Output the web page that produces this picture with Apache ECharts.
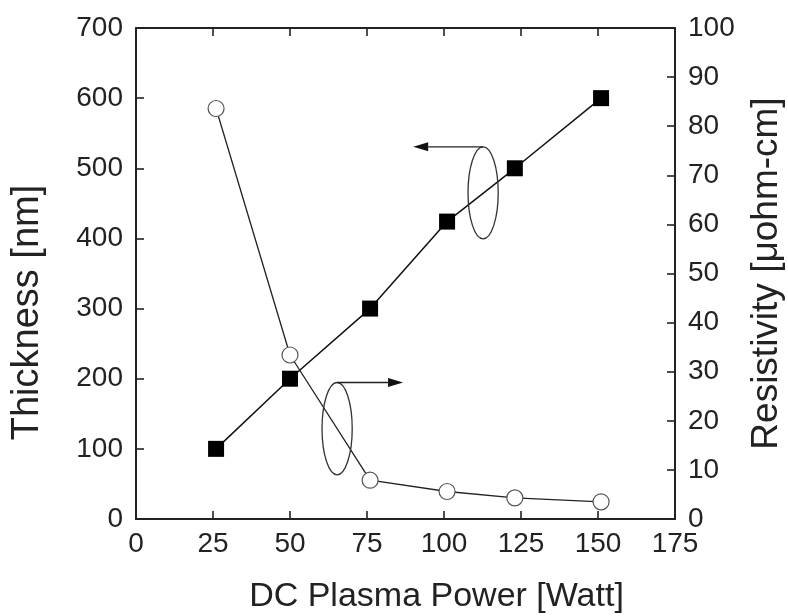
<!DOCTYPE html>
<html>
<head>
<meta charset="utf-8">
<script src="https://cdn.jsdelivr.net/npm/echarts@6/dist/echarts.min.js"></script>
<style>
html,body{margin:0;padding:0;background:#fff;}
#chart{width:788px;height:616px;}
</style>
</head>
<body>
<div id="chart"></div>
<script>
// ---- data ----
var powerW = [26, 50, 76, 101, 123, 151];
var thicknessNm = [100, 200, 300, 424, 500, 600];
var resistivity = [83.6, 33.4, 7.9, 5.6, 4.3, 3.5];
var xTicks = [0, 175, 25];      // min, max, interval
var yLeftTicks = [0, 700, 100];
var yRightTicks = [0, 100, 10];
// annotation anchors in data coordinates
var ellipseThick = {x: 112.7, y: 465, rx: 4.9, ry: 65.6, arrowTo: 90};
var ellipseRes = {x: 65.3, y: 18.4, rx: 4.9, ry: 9.4, arrowTo: 86.7};

var FONT = 'Liberation Sans, Arial, sans-serif';
var C = '#222';

var chart = echarts.init(document.getElementById('chart'));

function zip(a, b) { return a.map(function (v, i) { return [v, b[i]]; }); }

function axLine() { return {show: true, onZero: false, lineStyle: {color: C, width: 2}}; }
function tick() { return {show: true, inside: true, length: 8, lineStyle: {color: C, width: 1.6}}; }
function lbl(m) { return {color: C, fontSize: 28, fontFamily: FONT, margin: m}; }

chart.setOption({
  animation: false,
  backgroundColor: '#fff',
  grid: {left: 136, right: 113, top: 28, bottom: 97, containLabel: false, outerBoundsMode: 'none'},
  xAxis: [{
    type: 'value', position: 'bottom', min: xTicks[0], max: xTicks[1], interval: xTicks[2],
    axisLine: axLine(), axisTick: tick(), minorTick: {show: false}, splitLine: {show: false},
    axisLabel: lbl(11),
    name: 'DC Plasma Power [Watt]', nameLocation: 'middle', nameGap: 61,
    nameTextStyle: {color: C, fontSize: 34, fontFamily: FONT, padding: [0, 0, 0, 62]}
  }, {
    type: 'value', position: 'top', min: xTicks[0], max: xTicks[1], interval: xTicks[2],
    axisLine: axLine(), axisTick: tick(), minorTick: {show: false}, splitLine: {show: false},
    axisLabel: {show: false}
  }],
  yAxis: [{
    type: 'value', position: 'left', min: yLeftTicks[0], max: yLeftTicks[1], interval: yLeftTicks[2],
    axisLine: axLine(), axisTick: tick(), minorTick: {show: false}, splitLine: {show: false},
    axisLabel: lbl(13),
    name: 'Thickness [nm]', nameLocation: 'middle', nameGap: 89,
    nameTextStyle: {color: C, fontSize: 38, fontFamily: FONT, padding: [0, 78, 0, 0]}
  }, {
    type: 'value', position: 'right', min: yRightTicks[0], max: yRightTicks[1], interval: yRightTicks[2],
    axisLine: axLine(), axisTick: tick(), minorTick: {show: false}, splitLine: {show: false},
    axisLabel: lbl(13),
    name: 'Resistivity [\u03bcohm-cm]', nameLocation: 'middle', nameGap: 73,
    nameTextStyle: {color: C, fontSize: 37, fontFamily: FONT}
  }],
  series: [{
    type: 'line', xAxisIndex: 0, yAxisIndex: 0, data: zip(powerW, thicknessNm),
    symbol: 'rect', symbolSize: 16,
    lineStyle: {color: '#111', width: 1.5},
    itemStyle: {color: '#000', borderWidth: 0}
  }, {
    type: 'line', xAxisIndex: 0, yAxisIndex: 1, data: zip(powerW, resistivity),
    symbol: 'circle', symbolSize: 16, showAllSymbol: true,
    lineStyle: {color: '#222', width: 1.3},
    itemStyle: {color: '#fff', borderColor: '#555', borderWidth: 1.2}
  }]
});

function annot(e, yAxisIndex, dir) {
  var finder = {xAxisIndex: 0, yAxisIndex: yAxisIndex};
  var c = chart.convertToPixel(finder, [e.x, e.y]);
  var r = chart.convertToPixel(finder, [e.x + e.rx, e.y + e.ry]);
  var rx = Math.abs(r[0] - c[0]), ry = Math.abs(c[1] - r[1]);
  var top = c[1] - ry;
  var tip = chart.convertToPixel(finder, [e.arrowTo, e.y])[0];
  var headLen = 15, headHalf = 4.5;
  var base = tip - dir * headLen;
  return [{
    type: 'ellipse', shape: {cx: c[0], cy: c[1], rx: rx, ry: ry},
    style: {fill: null, stroke: '#333', lineWidth: 1.3}, z: 10
  }, {
    type: 'line', shape: {x1: c[0], y1: top, x2: base, y2: top},
    style: {stroke: '#222', lineWidth: 1.3}, z: 10
  }, {
    type: 'polygon', shape: {points: [[tip, top], [base, top - headHalf], [base, top + headHalf]]},
    style: {fill: '#111'}, z: 10
  }];
}

chart.setOption({
  graphic: annot(ellipseThick, 0, -1).concat(annot(ellipseRes, 1, 1))
});
</script>
</body>
</html>
